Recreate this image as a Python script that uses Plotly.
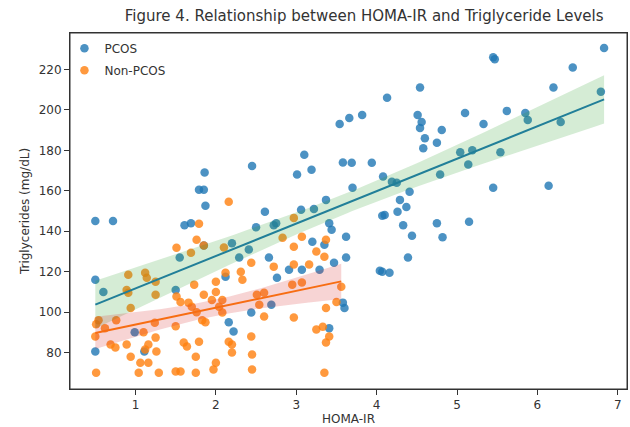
import numpy as np
import plotly.graph_objects as go

# ---------------- data ----------------
pcos_homa = [0.50, 0.72, 0.50, 0.60, 0.50, 0.99, 1.11, 1.55, 1.61, 1.86, 1.79, 1.85, 1.87, 2.45,
             1.69, 2.50, 1.50, 2.20, 2.12, 2.16, 2.22, 2.44, 2.61, 2.75, 2.41, 2.29, 2.66, 1.85,
             2.91, 2.76, 2.69, 3.10, 3.19, 3.01, 3.58, 3.69, 3.94, 4.08, 3.70, 3.37, 4.25, 3.06,
             3.22, 3.41, 3.44, 3.62, 3.20, 3.35, 3.62, 3.47, 3.29, 3.07, 3.58, 3.60, 3.41, 4.07,
             4.16, 4.10, 4.26, 4.29, 4.19, 4.54, 4.13, 3.54, 3.66, 3.82, 4.51, 4.56, 4.54, 4.81,
             4.60, 4.75, 4.58, 4.79, 4.41, 4.37, 4.07, 4.75, 4.33, 4.44, 4.82, 4.39, 4.04, 2.72,
             6.83, 5.45, 5.47, 6.44, 6.20, 6.79, 5.10, 5.62, 5.85, 5.88, 5.33, 6.29, 5.04, 5.19,
             5.54, 5.14, 5.45, 6.14, 5.15]
pcos_tg = [145.0, 145.0, 116.0, 110.0, 80.5, 90.0, 80.5, 127.0, 143.0, 169.0, 160.5, 160.5, 152.6, 172.3,
           144.0, 142.0, 111.0, 134.0, 117.5, 95.0, 90.4, 99.8, 149.6, 144.0, 131.0, 127.0, 127.0, 133.0,
           121.0, 117.0, 103.7, 177.8, 170.4, 168.0, 174.0, 173.8, 173.8, 167.0, 161.5, 155.5, 164.0, 150.6,
           151.0, 144.0, 140.7, 137.3, 134.8, 133.3, 127.0, 124.4, 121.0, 121.0, 104.7, 102.0, 92.0, 120.0,
           119.5, 148.0, 149.6, 155.5, 164.4, 211.0, 206.0, 193.0, 196.0, 197.5, 197.5, 194.0, 191.0, 190.0,
           186.0, 183.7, 181.0, 168.0, 159.5, 152.0, 147.6, 144.0, 143.0, 137.8, 137.0, 127.0, 120.5, 143.0,
           230.6, 226.0, 225.0, 221.0, 211.0, 209.0, 198.5, 199.5, 198.5, 195.0, 193.0, 194.0, 179.0, 180.0,
           179.0, 173.0, 161.5, 162.5, 144.7]

non_homa = [1.79, 1.76, 1.85, 1.51, 1.69, 0.91, 1.12, 1.14, 0.89, 1.25, 0.94, 0.76, 0.54, 0.50,
            0.51, 0.62, 0.69, 0.75, 0.89, 0.94, 1.10, 1.25, 1.16, 1.12, 1.26, 1.06, 1.16, 1.04,
            1.29, 1.50, 1.56, 1.75, 1.97, 2.00, 0.51, 1.50, 1.60, 1.64, 1.79, 1.75, 1.51, 1.56,
            1.66, 1.70, 1.76, 1.87, 1.95, 2.00, 2.00, 2.04, 2.08, 2.31, 2.33, 2.44, 2.44, 2.20,
            2.20, 2.45, 2.45, 2.12, 1.25, 2.16, 2.97, 2.83, 2.97, 2.72, 1.73, 2.10, 2.08, 1.85,
            1.83, 2.51, 2.60, 2.54, 2.60, 2.97, 2.16, 3.07, 3.25, 3.37, 3.35, 2.97, 3.16, 3.07,
            2.95, 3.56, 3.50, 3.37, 3.25, 3.33, 3.37, 3.41, 3.35, 0.91, 1.24]
non_tg = [143.7, 135.8, 133.0, 131.8, 129.4, 118.5, 119.5, 117.0, 111.0, 108.6, 102.0, 96.0, 96.0, 88.0,
          94.0, 92.0, 84.0, 82.5, 84.0, 78.0, 90.0, 87.4, 84.0, 81.5, 80.5, 75.0, 75.0, 70.0,
          70.0, 70.6, 70.6, 70.0, 71.6, 75.0, 70.0, 93.0, 85.0, 83.0, 85.4, 78.0, 107.7, 105.0,
          104.7, 102.7, 100.0, 95.0, 106.0, 110.0, 115.0, 102.7, 99.8, 120.0, 116.0, 124.4, 88.0, 84.0,
          80.0, 79.0, 71.6, 119.5, 115.0, 154.6, 146.6, 136.8, 132.3, 122.5, 113.6, 132.0, 106.0, 108.6,
          96.0, 108.6, 109.6, 103.7, 97.8, 97.3, 85.4, 137.3, 130.0, 135.8, 127.4, 123.5, 123.5, 114.6,
          113.6, 112.6, 105.0, 102.0, 91.4, 92.8, 85.0, 88.0, 70.0, 109.6, 94.8]

x_ticks = [1, 2, 3, 4, 5, 6, 7]
y_ticks = [80, 100, 120, 140, 160, 180, 200, 220]

BLUE = "#1f77b4"
ORANGE = "#ff7f0e"
GREEN_BAND = "rgba(44,160,44,0.2)"
RED_BAND = "rgba(214,39,40,0.2)"


def fit_with_ci(xs, ys, n_grid=100):
    x = np.asarray(xs, float)
    y = np.asarray(ys, float)
    n = len(x)
    b, a = np.polyfit(x, y, 1)
    grid = np.linspace(x.min(), x.max(), n_grid)
    yhat = a + b * grid
    resid = y - (a + b * x)
    s = np.sqrt(np.sum(resid ** 2) / (n - 2))
    sxx = np.sum((x - x.mean()) ** 2)
    se = s * np.sqrt(1.0 / n + (grid - x.mean()) ** 2 / sxx)
    t = 1.984
    return grid, yhat, yhat - t * se, yhat + t * se


fig = go.Figure()

fig.add_trace(go.Scatter(x=pcos_homa, y=pcos_tg, mode="markers", name="PCOS",
                         legendgroup="a",
                         marker=dict(color=BLUE, size=8.5, opacity=0.8, line=dict(width=0))))
fig.add_trace(go.Scatter(x=non_homa, y=non_tg, mode="markers", name="Non-PCOS",
                         legendgroup="b",
                         marker=dict(color=ORANGE, size=8.5, opacity=0.8, line=dict(width=0))))

for xs, ys, lc, band in [(pcos_homa, pcos_tg, BLUE, GREEN_BAND),
                         (non_homa, non_tg, ORANGE, RED_BAND)]:
    g, yh, lo, hi = fit_with_ci(xs, ys)
    fig.add_trace(go.Scatter(x=g, y=yh, mode="lines", line=dict(color=lc, width=2),
                             showlegend=False, hoverinfo="skip"))
    fig.add_trace(go.Scatter(x=g, y=lo, mode="lines", line=dict(width=0),
                             showlegend=False, hoverinfo="skip"))
    fig.add_trace(go.Scatter(x=g, y=hi, mode="lines", line=dict(width=0),
                             fill="tonexty", fillcolor=band,
                             showlegend=False, hoverinfo="skip"))

axis_common = dict(showline=True, linecolor="#333333", linewidth=1, mirror=True,
                   ticks="outside", ticklen=5, tickcolor="#333333", showgrid=False,
                   zeroline=False, tickfont=dict(size=12, color="#333333"))

fig.update_layout(
    width=630, height=427,
    margin=dict(l=70, r=3, t=33, b=38),
    paper_bgcolor="white", plot_bgcolor="white",
    font=dict(family="DejaVu Sans", color="#333333"),
    title=dict(text="Figure 4. Relationship between HOMA-IR and Triglyceride Levels",
               x=0.578, xanchor="center", y=0.962, yanchor="middle",
               font=dict(size=15, color="#333333")),
    xaxis=dict(range=[0.185, 7.115], tickvals=x_ticks,
               title=dict(text="HOMA-IR", font=dict(size=12), standoff=3), **axis_common),
    yaxis=dict(range=[62, 238], tickvals=y_ticks,
               title=dict(text="Triglycerides (mg/dL)", font=dict(size=12), standoff=6), **axis_common),
    legend=dict(x=-0.01, y=0.998, xanchor="left", yanchor="top", bgcolor="rgba(255,255,255,0)",
                borderwidth=0, font=dict(size=12, color="#333333"),
                tracegroupgap=3, traceorder="grouped"),
    shapes=[dict(type="rect", xref="paper", yref="paper", x0=0, x1=1, y0=0, y1=1,
                 line=dict(color="#333333", width=1), fillcolor="rgba(0,0,0,0)", layer="above")],
)

fig.write_html("out.html", config={"displayModeBar": False},
               post_script="document.body.style.margin='0px';document.body.style.padding='0px';")
